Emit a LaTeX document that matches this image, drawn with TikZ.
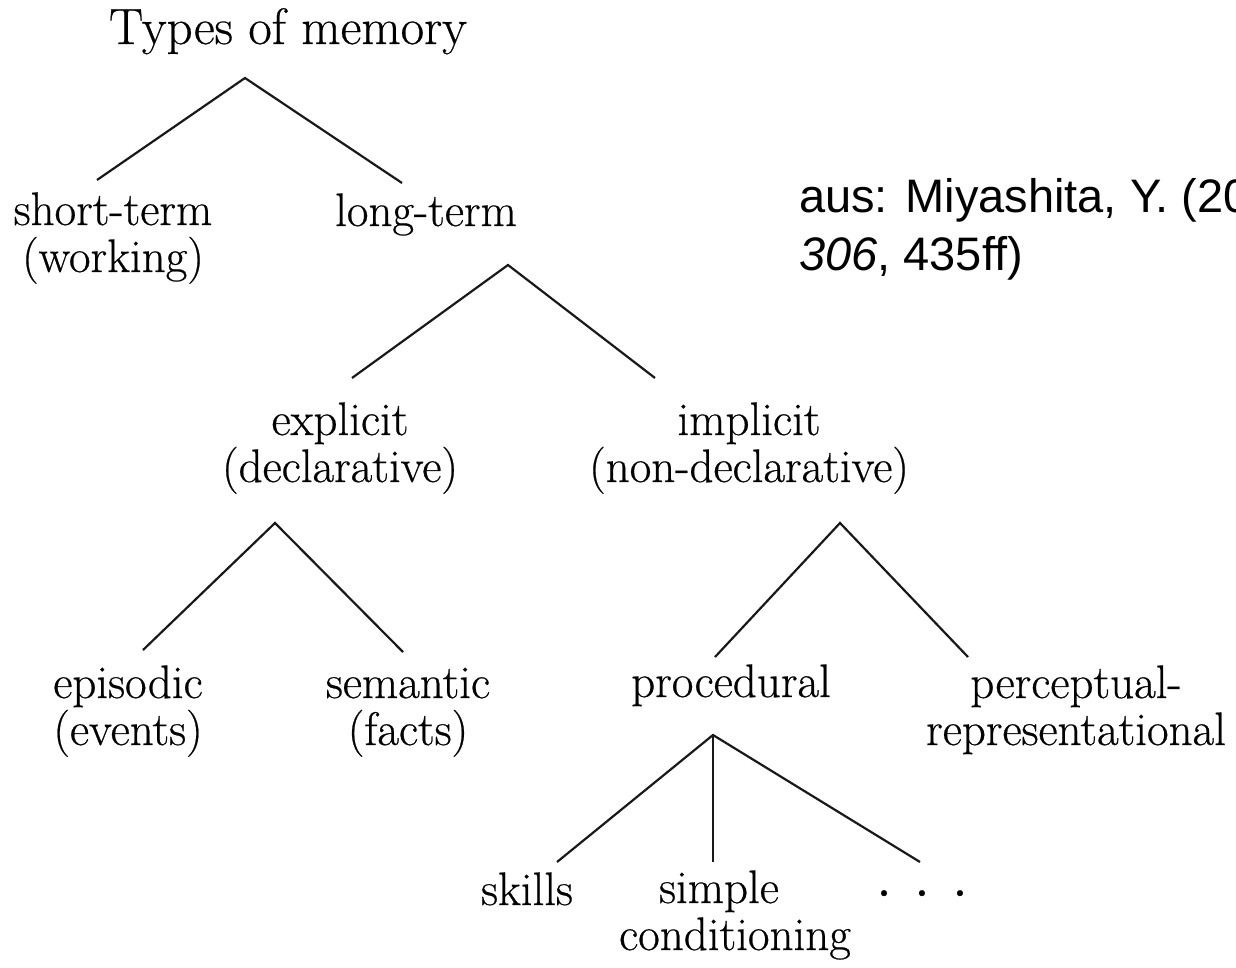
\documentclass[tikz,border=0pt]{standalone}
\usepackage{fontspec}
\newfontfamily\citefont{Liberation Sans}
\newfontfamily\treefont{Latin Modern Roman}[FakeBold=0.5]
\begin{document}
\begin{tikzpicture}[x=1pt,y=-1pt,
  lbl/.style={anchor=base,inner sep=0pt,align=center,font=\treefont\fontsize{47}{47}\selectfont},
  citetext/.style={anchor=base west,inner sep=0pt,font=\citefont\fontsize{47}{56}\selectfont},
  edge/.style={line width=2.2pt,black!90}]
\useasboundingbox (0,0) rectangle (1236,968);
\clip (0,0) rectangle (1236,968);
% nodes (y = baseline of last line)
\node[lbl,font=\treefont\fontsize{51}{56}\selectfont] (title) at (288,44) {Types of memory};
\node[lbl] (short) at (113,272) {short-term\\(working)};
\node[lbl] (long) at (426,226) {long-term};
\node[lbl] (expl) at (340,482) {explicit\\(declarative)};
\node[lbl] (impl) at (749,482) {implicit\\(non-declarative)};
\node[lbl] (epi) at (128,745) {episodic\\(events)};
\node[lbl] (sem) at (408,745) {semantic\\(facts)};
\node[lbl] (proc) at (731,697) {procedural};
\node[lbl] (perc) at (1076,745) {perceptual-\\representational};
\node[lbl] (skills) at (527,905) {skills};
\node[lbl] (simple) at (735,950) {simple\hspace*{32pt}\\conditioning};
\node[lbl,font=\treefont\fontsize{70}{70}\selectfont] (dots) at (922,896) {.\hspace{20.5pt}.\hspace{20.5pt}.};
% citation
\node[citetext] (cite1) at (799,213) {aus: Miyashita, Y. (20};
\node[citetext] (cite2) at (799,270) {\textit{306}, 435ff)};
% apexes and ends of the connectors
\coordinate (a1) at (245,78);
\coordinate (e1l) at (97,180);
\coordinate (e1r) at (402,183);
\coordinate (a2) at (508,265);
\coordinate (e2l) at (352,378);
\coordinate (e2r) at (655,378);
\coordinate (a3) at (275,523);
\coordinate (e3l) at (143,650);
\coordinate (e3r) at (403,652);
\coordinate (a4) at (840,523);
\coordinate (e4l) at (715,657);
\coordinate (e4r) at (968,657);
\coordinate (a5) at (713,735);
\coordinate (e5l) at (557,862);
\coordinate (e5m) at (713,862);
\coordinate (e5r) at (920,862);
\draw[edge] (e1l) -- (a1) -- (e1r);
\draw[edge] (e2l) -- (a2) -- (e2r);
\draw[edge] (e3l) -- (a3) -- (e3r);
\draw[edge] (e4l) -- (a4) -- (e4r);
\draw[edge] (e5l) -- (a5) -- (e5r);
\draw[edge] (a5) -- (e5m);
\end{tikzpicture}
\end{document}
